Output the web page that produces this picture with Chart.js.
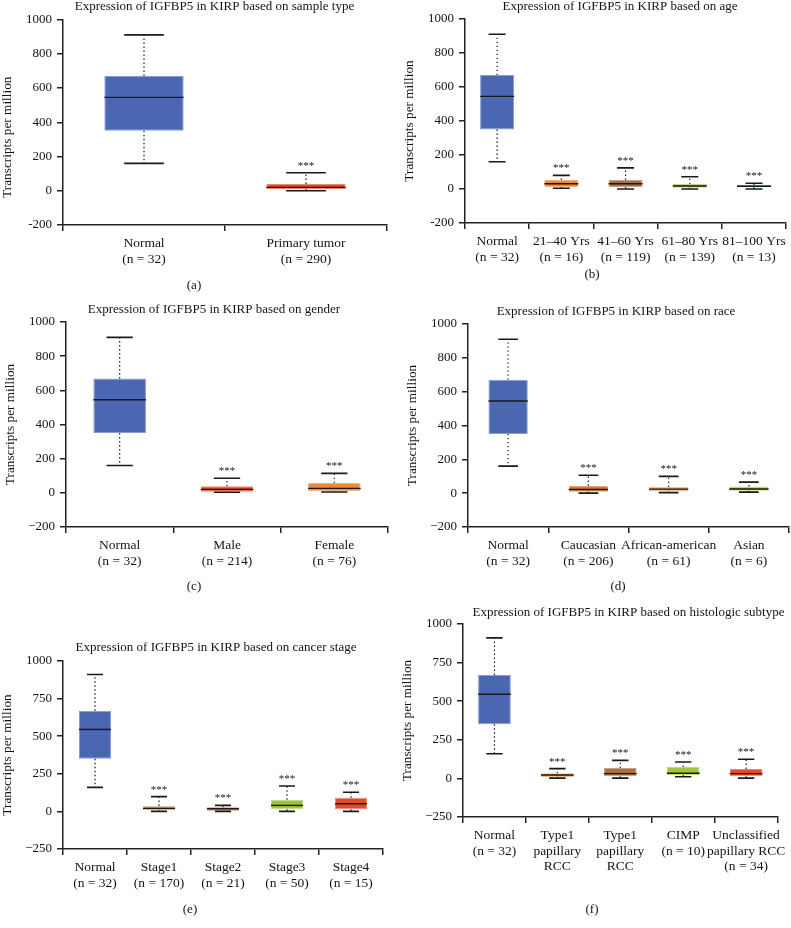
<!DOCTYPE html>
<html><head><meta charset="utf-8">
<script src="https://cdn.jsdelivr.net/npm/chart.js@4.4.0/dist/chart.umd.min.js"></script>
<style>
html,body{margin:0;padding:0;background:#fff;}
#wrap{position:relative;width:791px;height:928px;overflow:hidden;background:#fff;}
canvas{position:absolute;left:0;top:0;}
</style></head><body><div id="wrap">
<canvas id="pa" width="791" height="928"></canvas>
<canvas id="pb" width="791" height="928"></canvas>
<canvas id="pc" width="791" height="928"></canvas>
<canvas id="pd" width="791" height="928"></canvas>
<canvas id="pe" width="791" height="928"></canvas>
<canvas id="pf" width="791" height="928"></canvas>
</div>
<script>
// ---------- data ----------
const yTicks200 = [-200, 0, 200, 400, 600, 800, 1000];
const yTicks250 = [-250, 0, 250, 500, 750, 1000];

// (a) sample type
const sampleLabels = [["Normal", "(n = 32)"], ["Primary tumor", "(n = 290)"]];
const sampleMin = [160, 0];
const sampleQ1 = [350, 10];
const sampleMedian = [545, 20];
const sampleQ3 = [670, 40];
const sampleMax = [910, 105];

// (b) age
const ageLabels = [["Normal", "(n = 32)"], ["21\u201340 Yrs", "(n = 16)"], ["41\u201360 Yrs", "(n = 119)"], ["61\u201380 Yrs", "(n = 139)"], ["81\u2013100 Yrs", "(n = 13)"]];
const ageMin = [160, 4, 0, 0, 0];
const ageQ1 = [350, 12, 12, 8, 10];
const ageMedian = [545, 31, 31, 18, 16];
const ageQ3 = [670, 53, 53, 29, 24];
const ageMax = [910, 80, 124, 72, 34];

// (c) gender
const genderLabels = [["Normal", "(n = 32)"], ["Male", "(n = 214)"], ["Female", "(n = 76)"]];
const genderMin = [160, 3, 5];
const genderQ1 = [350, 7, 10];
const genderMedian = [545, 20, 26];
const genderQ3 = [670, 38, 57];
const genderMax = [910, 85, 114];

// (d) race
const raceLabels = [["Normal", "(n = 32)"], ["Caucasian", "(n = 206)"], ["African-american", "(n = 61)"], ["Asian", "(n = 6)"]];
const raceMin = [160, 0, 3, 6];
const raceQ1 = [350, 8, 10, 14];
const raceMedian = [545, 22, 24, 25];
const raceQ3 = [670, 43, 36, 40];
const raceMax = [910, 106, 99, 65];

// (e) cancer stage
const stageLabels = [["Normal", "(n = 32)"], ["Stage1", "(n = 170)"], ["Stage2", "(n = 21)"], ["Stage3", "(n = 50)"], ["Stage4", "(n = 15)"]];
const stageMin = [160, 0, 0, 0, 0];
const stageQ1 = [350, 7, 5, 14, 14];
const stageMedian = [545, 20, 18, 40, 51];
const stageQ3 = [670, 36, 27, 78, 91];
const stageMax = [910, 98, 40, 169, 127];

// (f) histologic subtype
const subtypeLabels = [["Normal", "(n = 32)"], ["Type1", "papillary", "RCC", "(n = 160)"], ["Type1", "papillary", "RCC", "(n = 69)"], ["CIMP", "(n = 10)"], ["Unclassified", "papillary RCC", "(n = 34)"]];
const subtypeMin = [160, 2, 2, 11, 2];
const subtypeQ1 = [350, 9, 14, 22, 14];
const subtypeMedian = [545, 22, 31, 33, 31];
const subtypeQ3 = [670, 33, 67, 74, 61];
const subtypeMax = [910, 63, 117, 106, 124];

// ---------- styles ----------
const FONT = "'Liberation Serif', 'Times New Roman', serif";
const AXIS = '#222';
const TEXT = '#141414';
const BLUE = '#4b67b1';
const sampleColors = [BLUE, '#e2462c'];
const ageColors = [BLUE, '#ec8a3b', '#a96f42', '#9cc53c', '#d84632'];
const genderColors = [BLUE, '#e4492e', '#ea8a3c'];
const raceColors = [BLUE, '#e0782c', '#e3a66e', '#9cc53c'];
const stageColors = [BLUE, '#eda45f', '#a0683a', '#9cc53c', '#e44a30'];
const subtypeColors = [BLUE, '#ee9a55', '#a96f40', '#9cc63c', '#e5482f'];

function lighten(hex, f) {
  const n = parseInt(hex.slice(1), 16);
  const r = (n >> 16) & 255, g = (n >> 8) & 255, b = n & 255;
  const m = c => Math.round(c + (255 - c) * f);
  return `rgb(${m(r)},${m(g)},${m(b)})`;
}

const whiskerPlugin = {
  id: 'whiskers',
  afterDatasetsDraw(chart, args, o) {
    const ctx = chart.ctx, y = chart.scales.y;
    const meta = chart.getDatasetMeta(0);
    ctx.save();
    meta.data.forEach((bar, i) => {
      const x = bar.x, w = bar.width;
      const pMin = y.getPixelForValue(o.min[i]);
      const pMax = y.getPixelForValue(o.max[i]);
      const pQ1 = y.getPixelForValue(o.q1[i]);
      const pQ3 = y.getPixelForValue(o.q3[i]);
      const pMed = y.getPixelForValue(o.median[i]);
      ctx.strokeStyle = '#1a1a1a';
      ctx.lineWidth = 1.2;
      ctx.setLineDash([1.4, 2.6]);
      ctx.beginPath();
      ctx.moveTo(x, pQ3); ctx.lineTo(x, pMax);
      ctx.moveTo(x, pQ1); ctx.lineTo(x, pMin);
      ctx.stroke();
      ctx.setLineDash([]);
      ctx.lineWidth = 1.6;
      ctx.beginPath();
      ctx.moveTo(x - w / 4, pMax); ctx.lineTo(x + w / 4, pMax);
      ctx.moveTo(x - w / 4, pMin); ctx.lineTo(x + w / 4, pMin);
      ctx.stroke();
      ctx.lineWidth = 1.4;
      ctx.beginPath();
      ctx.moveTo(x - w / 2, pMed); ctx.lineTo(x + w / 2, pMed);
      ctx.stroke();
      if (i > 0) {
        ctx.fillStyle = TEXT;
        ctx.font = `11px ${FONT}`;
        ctx.textAlign = 'center';
        ctx.textBaseline = 'alphabetic';
        ctx.fillText('***', x, pMax - 4);
      }
    });
    ctx.restore();
  }
};

const captionPlugin = {
  id: 'captions',
  afterDraw(chart, args, o) {
    const ctx = chart.ctx;
    ctx.save();
    ctx.fillStyle = TEXT;
    ctx.font = `13px ${FONT}`;
    ctx.textAlign = 'center';
    ctx.textBaseline = 'middle';
    ctx.fillText(o.title, o.titleX, o.titleY);
    ctx.fillText(o.letter, o.letterX, o.letterY);
    ctx.restore();
  }
};

function makePanel(id, d, g) {
  const minus = g.minus;
  new Chart(document.getElementById(id), {
    type: 'bar',
    data: {
      labels: d.labels,
      datasets: [{
        data: d.q1.map((v, i) => [v, d.q3[i]]),
        backgroundColor: d.colors,
        borderColor: d.colors.map(c => lighten(c, 0.35)),
        borderWidth: 1,
        borderSkipped: false,
        barPercentage: g.barPct,
        categoryPercentage: 1
      }]
    },
    options: {
      responsive: false,
      animation: false,
      devicePixelRatio: 1,
      layout: { padding: { left: g.axisX - 63, top: g.top, right: 791 - g.right, bottom: 928 - g.bottom - 60 } },
      plugins: {
        legend: { display: false },
        tooltip: { enabled: false },
        title: { display: false },
        whiskers: { min: d.min, q1: d.q1, median: d.median, q3: d.q3, max: d.max },
        captions: { title: d.title, titleX: g.titleX, titleY: g.titleY, letter: d.letter, letterX: g.letterX, letterY: g.letterY }
      },
      scales: {
        x: {
          grid: { display: true, drawOnChartArea: false, tickLength: 6, color: AXIS, lineWidth: 1.5, offset: true },
          border: { display: true, color: AXIS, width: 1.5 },
          ticks: { font: { family: FONT, size: 13.5, lineHeight: 1.15 }, color: TEXT, padding: 5, autoSkip: false, maxRotation: 0, minRotation: 0 },
          afterFit(s) { s.height = 60; }
        },
        y: {
          min: d.ticks[0],
          max: d.ticks[d.ticks.length - 1],
          afterBuildTicks(s) { s.ticks = d.ticks.map(v => ({ value: v })); },
          grid: { display: true, drawOnChartArea: false, tickLength: 6, color: AXIS, lineWidth: 1.5 },
          border: { display: true, color: AXIS, width: 1.5 },
          ticks: { font: { family: FONT, size: 13 }, color: TEXT, padding: 5,
            callback: v => (v < 0 ? minus + Math.abs(v) : String(v)) },
          title: { display: true, text: 'Transcripts per million' + g.yTitlePad, font: { family: FONT, size: 13.3 }, color: TEXT, padding: 0 },
          afterFit(s) { s.width = 63; }
        }
      }
    },
    plugins: [whiskerPlugin, captionPlugin]
  });
}

makePanel('pa', { labels: sampleLabels, min: sampleMin, q1: sampleQ1, median: sampleMedian, q3: sampleQ3, max: sampleMax, colors: sampleColors, ticks: yTicks200,
  title: 'Expression of IGFBP5 in KIRP based on sample type', letter: '(a)' },
  { axisX: 63, top: 19.5, bottom: 225, right: 387, titleX: 214.5, titleY: 7, letterX: 194, letterY: 286, barPct: 0.49, minus: '-', yTitlePad: '         ' });
makePanel('pb', { labels: ageLabels, min: ageMin, q1: ageQ1, median: ageMedian, q3: ageQ3, max: ageMax, colors: ageColors, ticks: yTicks200,
  title: 'Expression of IGFBP5 in KIRP based on age', letter: '(b)' },
  { axisX: 465, top: 19, bottom: 223, right: 788, titleX: 620, titleY: 7, letterX: 592, letterY: 275, barPct: 0.53, minus: '-', yTitlePad: '' });
makePanel('pc', { labels: genderLabels, min: genderMin, q1: genderQ1, median: genderMedian, q3: genderQ3, max: genderMax, colors: genderColors, ticks: yTicks200,
  title: 'Expression of IGFBP5 in KIRP based on gender', letter: '(c)' },
  { axisX: 66, top: 322, bottom: 527, right: 388, titleX: 214, titleY: 310, letterX: 194, letterY: 587, barPct: 0.49, minus: '\u2212', yTitlePad: '' });
makePanel('pd', { labels: raceLabels, min: raceMin, q1: raceQ1, median: raceMedian, q3: raceQ3, max: raceMax, colors: raceColors, ticks: yTicks200,
  title: 'Expression of IGFBP5 in KIRP based on race', letter: '(d)' },
  { axisX: 468, top: 324, bottom: 527, right: 789, titleX: 616, titleY: 312, letterX: 618, letterY: 587, barPct: 0.49, minus: '\u2212', yTitlePad: '' });
makePanel('pe', { labels: stageLabels, min: stageMin, q1: stageQ1, median: stageMedian, q3: stageQ3, max: stageMax, colors: stageColors, ticks: yTicks250,
  title: 'Expression of IGFBP5 in KIRP based on cancer stage', letter: '(e)' },
  { axisX: 63, top: 661, bottom: 849, right: 383, titleX: 216, titleY: 648, letterX: 190, letterY: 910, barPct: 0.5, minus: '\u2212', yTitlePad: '' });
makePanel('pf', { labels: subtypeLabels, min: subtypeMin, q1: subtypeQ1, median: subtypeMedian, q3: subtypeQ3, max: subtypeMax, colors: subtypeColors, ticks: yTicks250,
  title: 'Expression of IGFBP5 in KIRP based on histologic subtype', letter: '(f)' },
  { axisX: 463, top: 624, bottom: 817, right: 784, titleX: 628.5, titleY: 613, letterX: 592, letterY: 910, barPct: 0.52, minus: '\u2212', yTitlePad: '' });
</script>
</body></html>
